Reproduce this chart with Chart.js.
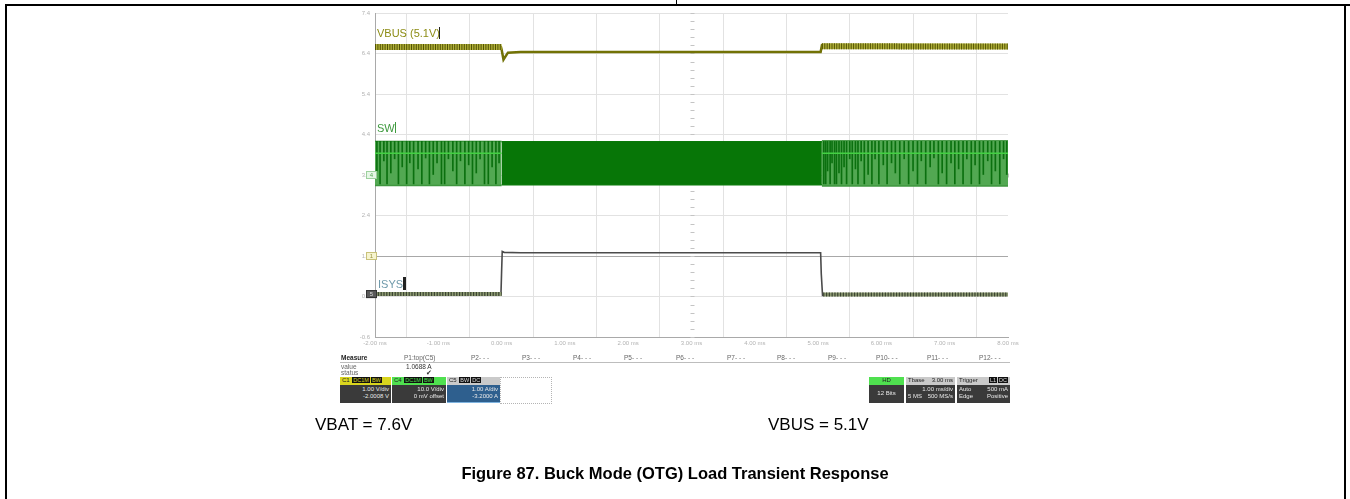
<!DOCTYPE html>
<html>
<head>
<meta charset="utf-8">
<title>Buck Mode (OTG) Load Transient Response</title>
<script src="https://cdn.jsdelivr.net/npm/chart.js@4.4.1/dist/chart.umd.min.js"></script>
<style>
  html, body { margin: 0; padding: 0; background: #fff; }
  #page { position: relative; width: 1350px; height: 499px; overflow: hidden;
          font-family: "Liberation Sans", Arial, Helvetica, sans-serif; }
  #scope { position: absolute; left: 0; top: 0; }
  .abs { position: absolute; white-space: nowrap; }
  .rule { position: absolute; background: #000; }
  .tiny { font-size: 6.5px; line-height: 7px; color: #666; }
  .chip { display: inline-block; background: #111; color: #ddd; padding: 0 1px; margin-left: 1px; font-size: 5.5px; line-height: 6px; }
  .box { position: absolute; font-size: 6px; line-height: 7px; }
  .box .top { height: 8px; padding: 0 2px; color: #222; overflow: hidden; }
  .box .body { height: 18px; background: #3a3a3a; color: #e8e8e8; padding: 1px 2px 0 2px; box-sizing: border-box; }
  .row { display: flex; justify-content: space-between; }
  .right { text-align: right; }
  .tag { position: absolute; white-space: nowrap; font-size: 11px; line-height: 12px; }
  .cursor { position: absolute; background: #222; }
  .note { position: absolute; font-size: 17px; line-height: 18px; color: #000; white-space: nowrap; }
  .caption { position: absolute; left: 0; width: 1350px; top: 464px; text-align: center;
             font-size: 16.5px; font-weight: bold; color: #000; }
</style>
</head>
<body>
<div id="page">
  <canvas id="scope" width="1350" height="499"></canvas>

  <!-- table cell frame -->
  <div class="rule" style="left:5px; top:4px; width:1345px; height:2px;"></div>
  <div class="rule" style="left:5px; top:4px; width:2px; height:495px;"></div>
  <div class="rule" style="left:676px; top:0; width:1px; height:5px;"></div>
  <div class="rule" style="left:1344px; top:4px; width:2px; height:495px;"></div>

  <!-- trace tags -->
  <div class="tag" style="left:377px; top:27px; color:#8c8c14;">VBUS (5.1V)</div>
  <div class="cursor" style="left:439px; top:27px; width:1px; height:12px;"></div>
  <div class="tag" style="left:377px; top:122px; color:#3f9a3f;">SW</div>
  <div class="cursor" style="left:395px; top:122px; width:1px; height:11px; background:#3f9a3f;"></div>
  <div class="tag" style="left:378px; top:278px; color:#6f9aab;">ISYS</div>
  <div class="cursor" style="left:403px; top:277px; width:3px; height:13px;"></div>

  <!-- measurement strip -->
  <div class="abs tiny" style="left:341px; top:354px; color:#222; font-weight:bold;">Measure</div>
  <div class="abs" style="left:340px; top:362px; width:670px; height:1px; background:#bdbdbd;"></div>
  <div class="abs tiny" style="left:341px; top:363px;">value</div>
  <div class="abs tiny" style="left:341px; top:369px;">status</div>
  <div class="abs tiny" style="left:404px; top:354px;">P1:top(C5)</div>
  <div class="abs tiny" style="left:406px; top:363px; color:#333;">1.0688 A</div>
  <div class="abs tiny" style="left:426px; top:369px; color:#333;">&#10004;</div>
  <div id="pcols"></div>

  <!-- channel descriptors -->
  <div class="box" style="left:340px; top:377px; width:51px;">
    <div class="top" style="background:#d9d51e;">C1 <span class="chip" style="color:#d9d51e;">DC1M</span><span class="chip" style="color:#d9d51e;">BW</span></div>
    <div class="body"><div class="right">1.00 V/div</div><div class="right">-2.0008 V</div></div>
  </div>
  <div class="box" style="left:392px; top:377px; width:54px;">
    <div class="top" style="background:#4fe04f;">C4 <span class="chip" style="color:#4fe04f;">DC1M</span><span class="chip" style="color:#4fe04f;">BW</span></div>
    <div class="body"><div class="right">10.0 V/div</div><div class="right">0 mV offset</div></div>
  </div>
  <div class="box" style="left:447px; top:377px; width:53px;">
    <div class="top" style="background:#cacaca;">C5 <span class="chip">BW</span><span class="chip">DC</span></div>
    <div class="body" style="background:#2e5f8e; border-bottom:1px solid #7fb4e0;"><div class="right">1.00 A/div</div><div class="right">-3.2000 A</div></div>
  </div>
  <div class="abs" style="left:500px; top:377px; width:50px; height:25px; border:1px dotted #b4b4b4;"></div>

  <div class="box" style="left:869px; top:377px; width:35px; text-align:center;">
    <div class="top" style="background:#4fe04f;">HD</div>
    <div class="body" style="padding-top:5px;">12 Bits</div>
  </div>
  <div class="box" style="left:906px; top:377px; width:49px;">
    <div class="top row" style="background:#cacaca;"><span>Tbase</span><span>3.00 ms</span></div>
    <div class="body"><div class="right">1.00 ms/div</div><div class="row"><span>5 MS</span><span>500 MS/s</span></div></div>
  </div>
  <div class="box" style="left:957px; top:377px; width:53px;">
    <div class="top row" style="background:#cacaca;"><span>Trigger</span><span><span class="chip">L1</span><span class="chip">DC</span></span></div>
    <div class="body"><div class="row"><span>Auto</span><span>500 mA</span></div><div class="row"><span>Edge</span><span>Positive</span></div></div>
  </div>

  <!-- test conditions and caption -->
  <div class="note" style="left:315px; top:416px;">VBAT = 7.6V</div>
  <div class="note" style="left:768px; top:416px;">VBUS = 5.1V</div>
  <div class="caption">Figure 87. Buck Mode (OTG) Load Transient Response</div>
</div>

<script>
// ---- axes: 1.00 ms/div horizontally, 8 divisions vertically ----
const X_TICKS = [-2, -1, 0, 1, 2, 3, 4, 5, 6, 7, 8];                 // ms
const X_TICK_LABELS = ['-2.00 ms', '-1.00 ms', '0.00 ms', '1.00 ms', '2.00 ms', '3.00 ms',
                       '4.00 ms', '5.00 ms', '6.00 ms', '7.00 ms', '8.00 ms'];
const Y_DIVS = [-4, -3, -2, -1, 0, 1, 2, 3, 4];
const Y_TICK_LABELS = ['-0.6', '0.4', '1.4', '2.4', '3.4', '4.4', '5.4', '6.4', '7.4'];

// ---- measurement parameter headings ----
const PARAM_LABELS = ['P2- - -', 'P3- - -', 'P4- - -', 'P5- - -', 'P6- - -', 'P7- - -',
                      'P8- - -', 'P9- - -', 'P10- - -', 'P11- - -', 'P12- - -'];

// ---- C1: VBUS (V) ----
const vbusTime  = [-2, -0.01, 0.0, 0.03, 0.10, 0.30, 5.04, 5.06, 5.12, 8];
const vbusVolts = [5.16, 5.16, 5.10, 4.85, 5.02, 5.04, 5.04, 5.20, 5.17, 5.17];
// light-load ripple stretches of VBUS
const vbusRippleTime  = [[-2, 0], [5.06, 8]];
const vbusRippleVolts = [[5.16, 5.16], [5.18, 5.17]];

// ---- C4: SW node (V) ----
const swRegionTime   = [[-2, 0], [0, 5.06], [5.06, 8]];
const swRegionHigh   = [8.3, 8.2, 8.4];
const swRegionLow    = [-2.6, -2.4, -2.7];
const swHeavyLoad    = [false, true, false];
const swMidLevel     = 5.4;   // bright level seen during pulse skipping
// individual switching bursts during light load
const swPulseTime = [-1.97, -1.92, -1.86, -1.81, -1.75, -1.69, -1.63, -1.57, -1.50, -1.45,
                     -1.39, -1.32, -1.26, -1.20, -1.14, -1.08, -1.02, -0.95, -0.90, -0.84,
                     -0.77, -0.71, -0.65, -0.58, -0.52, -0.46, -0.40, -0.34, -0.27, -0.21,
                     -0.15, -0.09, -0.04,
                     5.09, 5.12, 5.15, 5.19, 5.22, 5.26, 5.29, 5.33, 5.37, 5.41,
                     5.45, 5.50, 5.54, 5.59, 5.63, 5.68, 5.73, 5.79, 5.85, 5.90,
                     5.96, 6.03, 6.09, 6.16, 6.22, 6.29, 6.36, 6.43, 6.50, 6.57,
                     6.63, 6.70, 6.77, 6.83, 6.90, 6.96, 7.03, 7.10, 7.16, 7.22,
                     7.29, 7.35, 7.42, 7.48, 7.55, 7.61, 7.68, 7.74, 7.80, 7.87, 7.93, 7.98];
const swPulseLow  = [ 1.0, -2.2,  3.5, -2.2,  0.5,  4.0, -2.2,  2.0, -2.2,  3.0,
                     -2.2,  1.5, -2.2,  4.2, -2.2,  0.0,  3.0, -2.2, -2.2,  4.0,
                      1.0, -2.2,  3.5, -2.2,  2.5, -2.2,  0.5,  4.0, -2.2, -2.2,
                      2.0, -2.2,  3.0,
                     -2.2, -2.2,  1.0, -2.2,  3.0, -2.2, -2.2,  0.5, -2.2,  2.0,
                     -2.2,  4.0, -2.2,  1.5, -2.2,  3.5, -2.2,  0.0, -2.2,  4.0,
                     -2.2,  2.5, -2.2,  3.0,  0.5, -2.2,  4.0, -2.2,  1.0, -2.2,
                      3.5, -2.2,  2.0,  4.2, -2.2,  0.5, -2.2,  3.0, -2.2,  1.5,
                     -2.2,  4.0, -2.2,  2.5, -2.2,  0.0,  3.5, -2.2,  1.0, -2.2, 4.0];

// ---- C5: ISYS (A) ----
const isysTime = [-2, -0.01, 0.0, 0.01, 0.04, 0.30, 5.04, 5.05, 5.07, 5.10, 8];
const isysAmps = [0.0, 0.0, 0.55, 1.05, 1.03, 1.02, 1.02, 0.50, -0.03, -0.01, -0.01];
const isysRippleTime = [[-2, 0], [5.08, 8]];
const isysRippleAmps = [[0.0, 0.0], [-0.01, -0.01]];

// channel vertical settings: value at screen centre and units per division
const CH_VBUS = { center: 2.0,  perDiv: 1.0,  marker: '1' };
const CH_SW   = { center: 0.0,  perDiv: 10.0, marker: '4' };
const CH_ISYS = { center: 2.94, perDiv: 1.0,  marker: '5' };

const toDiv = (ch, v) => (v - ch.center) / ch.perDiv;
const pts = (times, vals, ch) => times.map((t, i) => ({ x: t, y: toDiv(ch, vals[i]) }));

// measurement headings row
(function () {
  const host = document.getElementById('pcols');
  const xs = [471, 522, 573, 624, 676, 727, 777, 828, 876, 927, 979];
  PARAM_LABELS.forEach((txt, i) => {
    const d = document.createElement('div');
    d.className = 'abs tiny';
    d.style.left = xs[i] + 'px';
    d.style.top = '354px';
    d.textContent = txt;
    host.appendChild(d);
  });
})();

const datasets = [];

// SW envelope bands
swRegionTime.forEach((span, i) => {
  const heavy = swHeavyLoad[i];
  datasets.push({
    label: 'SW high ' + i, data: pts(span, [swRegionHigh[i], swRegionHigh[i]], CH_SW),
    borderColor: heavy ? '#0b7a0b' : '#157d15', borderWidth: 1.5, fill: false, order: 20
  });
  datasets.push({
    label: 'SW low ' + i, data: pts(span, [swRegionLow[i], swRegionLow[i]], CH_SW),
    borderColor: heavy ? '#0b7a0b' : '#3f963f', borderWidth: 1.5,
    fill: '-1', backgroundColor: heavy ? '#077607' : '#52a852', order: 19
  });
});

// SW pulse-skipping bursts as thin vertical strokes
datasets.push({
  type: 'bar', label: 'SW bursts',
  data: swPulseTime.map((t, i) => ({ x: t, y: [toDiv(CH_SW, swPulseLow[i]), toDiv(CH_SW, 8.3)] })),
  backgroundColor: '#0b700f', barThickness: 1, grouped: false, order: 18
});

// bright SW level during light load
swRegionTime.forEach((span, i) => {
  if (swHeavyLoad[i]) return;
  datasets.push({
    label: 'SW level ' + i, data: pts(span, [swMidLevel, swMidLevel], CH_SW),
    borderColor: '#43d043', borderWidth: 1.5, order: 17
  });
});

// VBUS
vbusRippleTime.forEach((span, i) => {
  datasets.push({
    label: 'VBUS ripple base ' + i, data: pts(span, vbusRippleVolts[i], CH_VBUS),
    borderColor: '#b2b23a', borderWidth: 6, order: 9
  });
  datasets.push({
    label: 'VBUS ripple ' + i, data: pts(span, vbusRippleVolts[i], CH_VBUS),
    borderColor: '#525205', borderWidth: 6, borderDash: [1, 1.4], order: 8
  });
});
datasets.push({
  label: 'VBUS', data: pts(vbusTime, vbusVolts, CH_VBUS),
  borderColor: '#727205', borderWidth: 2.5, order: 10
});

// ISYS
isysRippleTime.forEach((span, i) => {
  datasets.push({
    label: 'ISYS ripple base ' + i, data: pts(span, isysRippleAmps[i], CH_ISYS),
    borderColor: '#8d9a72', borderWidth: 4, order: 4
  });
  datasets.push({
    label: 'ISYS ripple ' + i, data: pts(span, isysRippleAmps[i], CH_ISYS),
    borderColor: '#3b4432', borderWidth: 4, borderDash: [1.2, 1.6], order: 3
  });
});
datasets.push({
  label: 'ISYS', data: pts(isysTime, isysAmps, CH_ISYS),
  borderColor: '#4b4b4b', borderWidth: 1.6, order: 5
});

// graticule centre-line ticks (under the traces) and channel ground markers (over them)
const scopeOverlay = {
  id: 'scopeOverlay',
  beforeDatasetsDraw(chart) {
    const { ctx, scales: { x, y } } = chart;
    ctx.save();
    ctx.strokeStyle = '#c4c4c4';
    ctx.lineWidth = 1;
    const cx = Math.round(x.getPixelForValue(3)) + 0.5;
    const cy = Math.round(y.getPixelForValue(0)) + 0.5;
    for (let d = -4; d <= 4.001; d += 0.2) {
      const py = Math.round(y.getPixelForValue(d)) + 0.5;
      ctx.beginPath(); ctx.moveTo(cx - 2, py); ctx.lineTo(cx + 2, py); ctx.stroke();
    }
    for (let t = -2; t <= 8.001; t += 0.2) {
      const px = Math.round(x.getPixelForValue(t)) + 0.5;
      ctx.beginPath(); ctx.moveTo(px, cy - 2); ctx.lineTo(px, cy + 2); ctx.stroke();
    }
    ctx.restore();
  },
  afterDatasetsDraw(chart) {
    const { ctx, scales: { y } } = chart;
    ctx.save();
    const marks = [
      { ch: CH_VBUS, fill: '#f6f4cf', edge: '#c9c27a', text: '#9a9440' },
      { ch: CH_SW,   fill: '#e6f6e6', edge: '#9ed19e', text: '#5aa85a' },
      { ch: CH_ISYS, fill: '#5a5a5a', edge: '#333333', text: '#dddddd' }
    ];
    ctx.font = '6px "Liberation Sans", Arial, sans-serif';
    ctx.textAlign = 'center';
    ctx.textBaseline = 'middle';
    marks.forEach(m => {
      const py = y.getPixelForValue(toDiv(m.ch, 0));
      const left = chart.chartArea.left - 9;
      ctx.fillStyle = m.fill; ctx.strokeStyle = m.edge;
      ctx.fillRect(left, py - 4, 11, 8);
      ctx.strokeRect(left + 0.5, py - 3.5, 10, 7);
      ctx.fillStyle = m.text;
      ctx.fillText(m.ch.marker, left + 5.5, py + 0.5);
    });
    ctx.restore();
  }
};

new Chart(document.getElementById('scope'), {
  type: 'line',
  data: { datasets },
  options: {
    responsive: false,
    animation: false,
    devicePixelRatio: 1,
    parsing: true,
    layout: { padding: { left: 350, right: 342, top: 13, bottom: 150 } },
    elements: { point: { radius: 0, hoverRadius: 0 }, line: { tension: 0, borderCapStyle: 'butt' } },
    plugins: { legend: { display: false }, tooltip: { enabled: false } },
    scales: {
      x: {
        type: 'linear', min: -2, max: 8, offset: false,
        afterBuildTicks: s => { s.ticks = X_TICKS.map(v => ({ value: v })); },
        afterFit: s => { s.height = 12; },
        ticks: {
          autoSkip: false, maxRotation: 0, padding: 3,
          font: { size: 6, family: '"Liberation Sans", Arial, sans-serif' }, color: '#b3b3b3',
          callback: (v, i) => X_TICK_LABELS[i]
        },
        grid: { color: '#e2e2e2', drawTicks: false },
        border: { color: '#a9a9a9' }
      },
      y: {
        type: 'linear', min: -4, max: 4,
        afterBuildTicks: s => { s.ticks = Y_DIVS.map(v => ({ value: v })); },
        afterFit: s => { s.width = 25; },
        ticks: {
          padding: 5,
          font: { size: 6, family: '"Liberation Sans", Arial, sans-serif' }, color: '#b3b3b3',
          callback: (v, i) => Y_TICK_LABELS[i]
        },
        grid: {
          drawTicks: false,
          color: c => (c.tick && c.tick.value === -2 ? '#a8a8a8' : '#e2e2e2')
        },
        border: { color: '#a9a9a9' }
      }
    }
  },
  plugins: [scopeOverlay]
});
</script>
</body>
</html>
